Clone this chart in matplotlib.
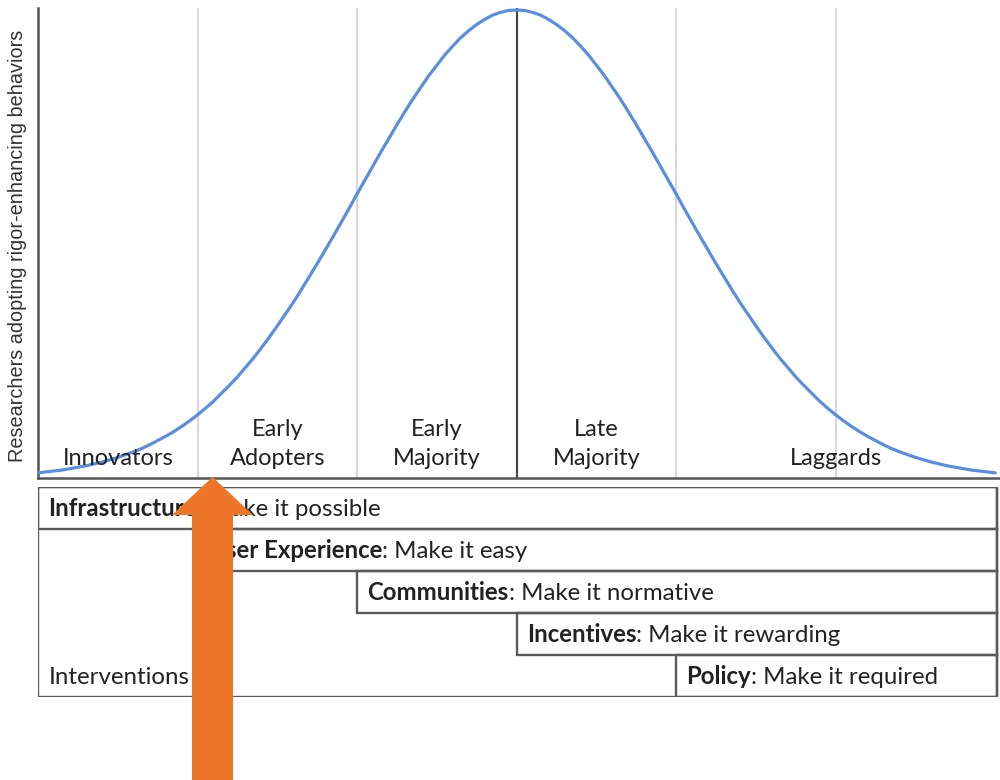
import matplotlib
matplotlib.use('Agg')
import matplotlib.pyplot as plt
from matplotlib.patches import Rectangle, FancyArrow
import numpy as np

# ---------------- data ----------------
# positions along the adoption axis (standard deviations from the mean)
x_sd = np.round(np.linspace(-3.0, 3.0, 121), 2)
# relative share of researchers adopting (peak = 1), x = 0 .. 3
half = [1.000, 0.999, 0.995, 0.989, 0.980, 0.969, 0.956, 0.941, 0.923, 0.904,
        0.882, 0.860, 0.835, 0.810, 0.783, 0.755, 0.726, 0.697, 0.667, 0.637,
        0.607, 0.576, 0.546, 0.516, 0.487, 0.458, 0.430, 0.402, 0.375, 0.350,
        0.325, 0.301, 0.278, 0.256, 0.236, 0.216, 0.198, 0.181, 0.164, 0.149,
        0.135, 0.122, 0.110, 0.099, 0.089, 0.080, 0.071, 0.063, 0.056, 0.050,
        0.044, 0.039, 0.034, 0.030, 0.026, 0.023, 0.020, 0.017, 0.015, 0.013,
        0.011]
adopters = half[::-1][:-1] + half

phase_names = ['Innovators', 'Early\nAdopters', 'Early\nMajority',
               'Late\nMajority', 'Laggards']
phase_edges = [-3, -2, -1, 0, 1, 3]
phase_bounds = [-2, -1, 0, 1, 2]

interv_names = ['Infrastructure', 'User Experience', 'Communities',
                'Incentives', 'Policy']
interv_phrases = ['Make it possible', 'Make it easy', 'Make it normative',
                  'Make it rewarding', 'Make it required']
interv_start = [-3, -2, -1, 0, 1]

ylabel = 'Researchers adopting rigor-enhancing behaviors'

# ---------------- styling ----------------
W, H = 1000, 780
XMIN, XMAX = -3.0, 3.03
RIGHT = 3.01
TXT = '#222222'
LINE = '#5a5a5a'
FONT = 'Lato'
BOXFS = 17.3

fig = plt.figure(figsize=(W / 100, H / 100), dpi=100)
fig.patch.set_facecolor('white')

# ---- curve axes ----
ax = fig.add_axes([38 / W, (H - 478) / H, (W - 38) / W, 470 / H])
ax.set_xlim(XMIN, XMAX)
ax.set_ylim(0, 470 / 468)
for xb in phase_bounds:
    if xb == 0:
        ax.axvline(xb, color='#4a4a4a', lw=1.6, zorder=1)
    else:
        ax.axvline(xb, color='#d9d9d9', lw=1.6, zorder=1)
ax.plot(x_sd, adopters, color='#5b8ee0', lw=2.3, zorder=3,
        solid_capstyle='round')
for name, a, b in zip(phase_names, phase_edges[:-1], phase_edges[1:]):
    ax.text((a + b) / 2, 0.028, name, ha='center', va='baseline',
            fontsize=17, family=FONT, color=TXT, linespacing=1.48, zorder=4)
for s in ['top', 'right']:
    ax.spines[s].set_visible(False)
for s in ['left', 'bottom']:
    ax.spines[s].set_color('#555555')
    ax.spines[s].set_linewidth(1.8)
ax.set_xticks([])
ax.set_yticks([])
ax.patch.set_alpha(0)

fig.text(18 / W, 1 - 246 / H, ylabel, rotation=90, ha='center', va='center',
         fontsize=14.3, family='Liberation Sans', color='#333333')

# ---- interventions box ----
bx = fig.add_axes([38 / W, (H - 697) / H, (W - 38) / W, 210 / H])
bx.set_xlim(XMIN, XMAX)
bx.set_ylim(5, 0)
bx.axis('off')
n = len(interv_names)
for i, (nm, ph, st) in enumerate(zip(interv_names, interv_phrases, interv_start)):
    bx.add_patch(Rectangle((st, i), RIGHT - st, 1, fill=False, ec=LINE,
                           lw=1.7, zorder=2))
    t = bx.text(st + 0.065, i + 0.70, nm, ha='left', va='baseline',
                fontsize=BOXFS, family=FONT, weight='bold', color=TXT, zorder=3)
    bx.annotate(': ' + ph, xy=(1, 0), xycoords=t, ha='left', va='bottom',
                fontsize=BOXFS, family=FONT, color=TXT, zorder=3)
bx.add_patch(Rectangle((XMIN, 0), RIGHT - XMIN, n, fill=False, ec=LINE,
                       lw=1.7, zorder=2))
bx.text(XMIN + 0.065, n - 0.30, 'Interventions', ha='left', va='baseline',
        fontsize=BOXFS, family=FONT, color=TXT, zorder=3)

# ---- orange arrow overlay ----
ov = fig.add_axes([0, 0, 1, 1])
ov.set_xlim(0, W)
ov.set_ylim(H, 0)
ov.axis('off')
ov.patch.set_alpha(0)
ov.add_patch(FancyArrow(212.5, 782, 0, 477 - 782, width=41, head_width=81,
                        head_length=38, length_includes_head=True,
                        color='#ee7628', lw=0))

fig.savefig('out.png', dpi=100, facecolor='white')
